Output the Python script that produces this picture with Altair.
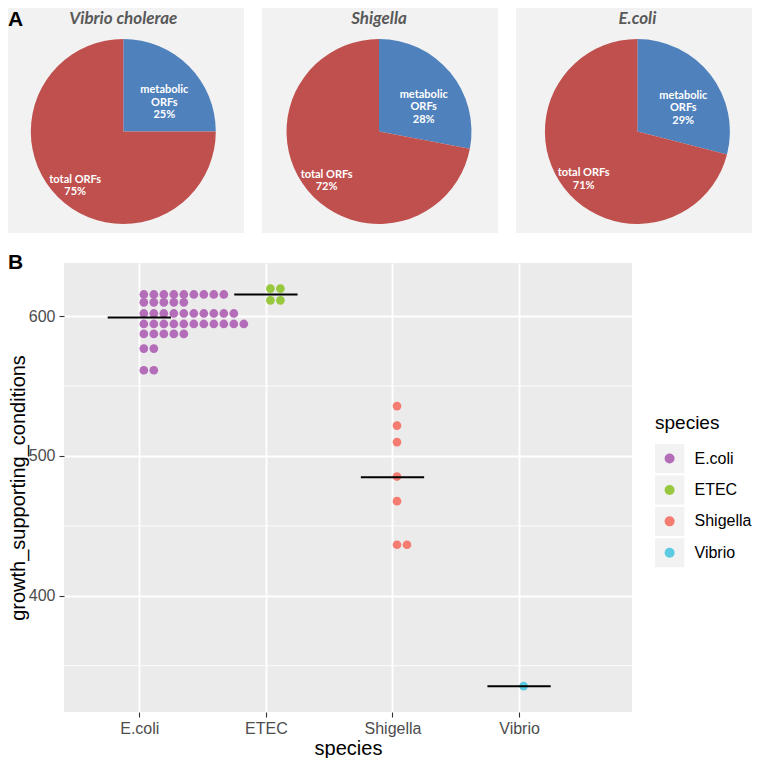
import altair as alt
import pandas as pd

# ---------------- Panel A data ----------------
pie_titles = ["Vibrio cholerae", "Shigella", "E.coli"]
pie_categories = ["metabolic ORFs", "total ORFs"]
pie_label_lines = ["metabolic\nORFs", "total ORFs"]
pie_percent = [[25, 75], [28, 72], [29, 71]]
pie_colors = ["#4F81BD", "#C0504D"]

# ---------------- Panel B data ----------------
species = ["E.coli", "ETEC", "Shigella", "Vibrio"]
species_colors = ["#B46DB8", "#97C83D", "#F47C70", "#5CCBE1"]
ecoli_values = [615.5, 609.9, 601.9, 594.4, 587.3, 576.8, 561.3]
ecoli_counts = [9, 5, 10, 11, 5, 2, 2]
etec_values = [619.7, 611.3]
etec_counts = [2, 2]
shigella_values = [535.7, 521.7, 509.9, 485.3, 467.7, 436.5]
shigella_counts = [1, 1, 1, 1, 1, 2]
vibrio_values = [335.4]
vibrio_counts = [1]
y_major = [400, 500, 600]
y_minor = [350, 450, 550]

FONT = "Liberation Sans"
PIE_FONT = "Lato"

# ---------------- layout ----------------
PANEL_W, PANEL_H, PANEL_GAP = 236, 225, 18
PIE_R = 92.5
PIE_CX = [115.3, 117.0, 121.4]
PIE_CY = 123.5
R_IN, R_OUT = 58, 68
PLOT_W, PLOT_H = 568, 449
LEFT_W = 56
LEG_W = 120
LEG_DX = 23


def pie_panel(i):
    df = pd.DataFrame({
        "category": pie_categories,
        "lines": pie_label_lines,
        "pct": pie_percent[i],
        "order": list(range(len(pie_categories))),
    })
    cx = PIE_CX[i]
    base = alt.Chart(df).encode(
        theta=alt.Theta("pct:Q", stack=True),
        order=alt.Order("order:Q"),
        detail="category:N",
        x=alt.value(cx),
        y=alt.value(PIE_CY),
    )
    arc = base.mark_arc(outerRadius=PIE_R).encode(
        color=alt.Color("category:N",
                        scale=alt.Scale(domain=pie_categories, range=pie_colors),
                        legend=None)
    )
    layers = [arc]
    for k, rad in enumerate([R_IN, R_OUT]):
        cat = pie_categories[k]
        t = base.transform_calculate(
            lab=f"datum.category == '{cat}' ? datum.lines + '\\n' + datum.pct + '%' : ' '"
        ).mark_text(radius=rad, font=PIE_FONT, fontWeight="bold", fontSize=11,
                    color="white", lineBreak="\n", lineHeight=12.5,
                    align="center", baseline="middle").encode(text="lab:N")
        layers.append(t)
    title = alt.Chart(pd.DataFrame({"t": [pie_titles[i]]})).mark_text(
        font=PIE_FONT, fontWeight="bold", fontStyle="italic", fontSize=17,
        color="#595959", align="center", baseline="alphabetic"
    ).encode(text="t:N", x=alt.value(cx), y=alt.value(15.8))
    layers.append(title)
    if i == 0:
        a = alt.Chart(pd.DataFrame({"t": ["A"]})).mark_text(
            font=FONT, fontWeight="bold", fontSize=21, color="black",
            align="left", baseline="top"
        ).encode(text="t:N", x=alt.value(0), y=alt.value(1))
        layers.append(a)
    return alt.layer(*layers).properties(
        width=PANEL_W, height=PANEL_H,
        view=alt.ViewBackground(fill="#F2F2F2", strokeWidth=0),
    )


top = alt.hconcat(*[pie_panel(i) for i in range(3)], spacing=PANEL_GAP)

# ---------------- dot plot ----------------
rows = []
for sp, vals, cnts in [("E.coli", ecoli_values, ecoli_counts),
                       ("ETEC", etec_values, etec_counts),
                       ("Shigella", shigella_values, shigella_counts),
                       ("Vibrio", vibrio_values, vibrio_counts)]:
    for v, c in zip(vals, cnts):
        for _ in range(c):
            rows.append({"species": sp, "idx": species.index(sp) + 1, "value": v})
dots = pd.DataFrame(rows)

DOT_STEP = 10 / 126.6  # one dot diameter in category units
label_expr = "[" + ",".join(f"'{s}'" for s in [""] + species) + "][datum.value]"

xscale = alt.Scale(domain=[0.405, 4.892], nice=False, zero=False)
yscale = alt.Scale(domain=[316.9, 638.0], nice=False, zero=False)

xaxis = alt.Axis(values=[1, 2, 3, 4], labelExpr=label_expr, title="species",
                 grid=True, gridColor="white", gridWidth=1.8, domain=False,
                 tickColor="#333333", tickSize=5, tickWidth=1.1,
                 labelFont=FONT, labelFontSize=16, labelColor="#4D4D4D", labelPadding=3,
                 titleFont=FONT, titleFontSize=20, titleFontWeight="normal",
                 titleColor="black", titlePadding=2)
yaxis = alt.Axis(values=y_major, title="growth_supporting_conditions",
                 grid=True, gridColor="white", gridWidth=1.8, domain=False,
                 tickColor="#333333", tickSize=5, tickWidth=1.1,
                 labelFont=FONT, labelFontSize=16, labelColor="#4D4D4D", labelPadding=4,
                 titleFont=FONT, titleFontSize=20, titleFontWeight="normal",
                 titleColor="black", titlePadding=0)

color_scale = alt.Scale(domain=species, range=species_colors)

base = alt.Chart(dots)
points = base.transform_window(
    k="row_number()", groupby=["species", "value"]
).transform_calculate(
    xpos=f"datum.idx + (datum.k - 0.55) * {DOT_STEP}"
).mark_circle(size=76, opacity=1).encode(
    x=alt.X("xpos:Q", scale=xscale, axis=xaxis),
    y=alt.Y("value:Q", scale=yscale, axis=yaxis),
    color=alt.Color("species:N", scale=color_scale, legend=None),
)

minor = alt.Chart(pd.DataFrame({"v": y_minor})).mark_rule(
    color="white", strokeWidth=0.9
).encode(y=alt.Y("v:Q", scale=yscale, axis=yaxis))

means = base.transform_aggregate(
    mean_value="mean(value)", groupby=["species", "idx"]
).transform_calculate(
    x1="datum.idx - 0.25", x2="datum.idx + 0.25"
).mark_rule(color="black", strokeWidth=2).encode(
    x=alt.X("x1:Q", scale=xscale, axis=xaxis),
    x2="x2:Q",
    y=alt.Y("mean_value:Q", scale=yscale, axis=yaxis),
)

dotplot = alt.layer(points, minor, means).properties(
    width=PLOT_W, height=PLOT_H,
    view=alt.ViewBackground(fill="#EBEBEB", strokeWidth=0),
)

# left column holding the panel letter "B"
b_col = alt.Chart(pd.DataFrame({"t": ["B"]})).mark_text(
    font=FONT, fontWeight="bold", fontSize=21, color="black",
    align="left", baseline="top"
).encode(text="t:N", x=alt.value(0), y=alt.value(-11.5)).properties(
    width=LEFT_W, height=PLOT_H,
    view=alt.ViewBackground(fill="white", strokeWidth=0, fillOpacity=0),
)

# ---------------- legend ----------------
leg_df = pd.DataFrame({"species": species})
yleg = alt.Y("species:N",
             scale=alt.Scale(domain=species, range=[181, 304.3],
                             paddingInner=0.073, paddingOuter=0),
             axis=None)
leg_base = alt.Chart(leg_df)
keys = leg_base.mark_rect(color="#F2F2F2").encode(
    y=yleg, x=alt.value(LEG_DX), x2=alt.value(LEG_DX + 29.3))
key_dots = leg_base.mark_circle(size=100, opacity=1).encode(
    y=yleg, x=alt.value(LEG_DX + 14.6),
    color=alt.Color("species:N", scale=color_scale, legend=None))
key_text = leg_base.mark_text(font=FONT, fontSize=16, color="black",
                              align="left", baseline="middle").encode(
    y=yleg, x=alt.value(LEG_DX + 39.5), text="species:N")
leg_title = alt.Chart(pd.DataFrame({"t": ["species"]})).mark_text(
    font=FONT, fontSize=19, color="black", align="left", baseline="alphabetic"
).encode(text="t:N", x=alt.value(LEG_DX), y=alt.value(166))
legend = alt.layer(keys, key_dots, key_text, leg_title).properties(
    width=LEG_W, height=PLOT_H,
    view=alt.ViewBackground(fill="white", strokeWidth=0, fillOpacity=0),
)

bottom = alt.hconcat(b_col, dotplot, legend, spacing=0, bounds="flush")

chart = alt.vconcat(top, bottom, spacing=18).resolve_scale(
    color="independent"
).properties(
    padding=0, background="white"
).configure(font=FONT).configure_view(strokeWidth=0)

chart.save("out.html", embed_options={"renderer": "svg", "actions": False})
